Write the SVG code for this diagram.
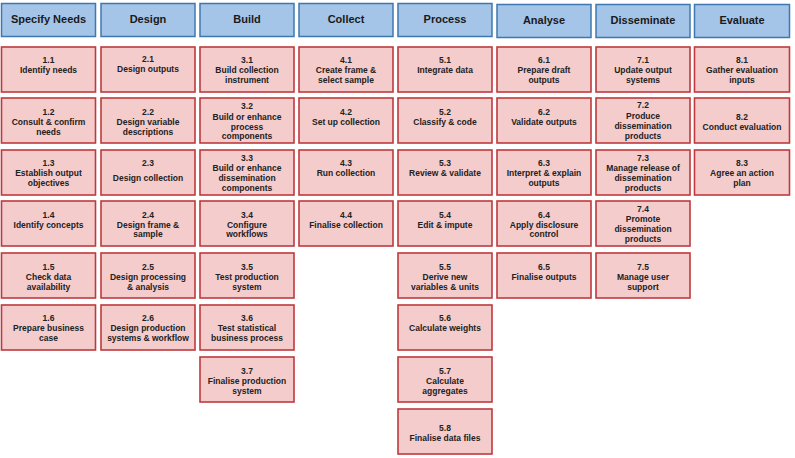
<svg xmlns="http://www.w3.org/2000/svg" width="795" height="458" viewBox="0 0 795 458">
<style>
.h rect{fill:#a4c4e8;stroke:#3f78b0;stroke-width:1.5}
.h text{font-family:"Liberation Sans",Arial,sans-serif;font-weight:bold;font-size:11px;fill:#1a1a1a;text-anchor:middle}
.n rect{fill:#f4cccc;stroke:#bf3a3e;stroke-width:1.6}
.n text{font-family:"Liberation Sans",Arial,sans-serif;font-weight:bold;font-size:8.5px;fill:#222;text-anchor:middle}
</style>
<rect width="795" height="458" fill="#fff"/>
<g id="headers">
<g id="h1" class="h"><rect x="1.5" y="3.5" width="94" height="33"/><text x="48.5" y="22.5">Specify Needs</text></g>
<g id="h2" class="h"><rect x="101" y="3.5" width="94" height="33"/><text x="148" y="22.5">Design</text></g>
<g id="h3" class="h"><rect x="200" y="3.5" width="94" height="33"/><text x="247" y="22.5">Build</text></g>
<g id="h4" class="h"><rect x="299" y="3.5" width="94" height="33"/><text x="346" y="22.5">Collect</text></g>
<g id="h5" class="h"><rect x="398" y="3.5" width="94" height="33"/><text x="445" y="22.5">Process</text></g>
<g id="h6" class="h"><rect x="497" y="4.5" width="94" height="33"/><text x="544" y="24">Analyse</text></g>
<g id="h7" class="h"><rect x="596" y="4.5" width="94" height="33"/><text x="643" y="24">Disseminate</text></g>
<g id="h8" class="h"><rect x="694.5" y="4.5" width="95" height="33"/><text x="742" y="24">Evaluate</text></g>
</g>
<g id="connectors"/>
<g id="nodes">
<!-- column 1 -->
<g id="n1_1" class="n"><rect x="1.5" y="47" width="94" height="45"/><text x="48.5" y="62.5">1.1</text><text x="48.5" y="72.8">Identify needs</text></g>
<g id="n1_2" class="n"><rect x="1.5" y="98" width="94" height="45"/><text x="48.5" y="114.7">1.2</text><text x="48.5" y="124.7">Consult &amp; confirm</text><text x="48.5" y="134.7">needs</text></g>
<g id="n1_3" class="n"><rect x="1.5" y="150" width="94" height="45"/><text x="48.5" y="166">1.3</text><text x="48.5" y="176.3">Establish output</text><text x="48.5" y="186.3">objectives</text></g>
<g id="n1_4" class="n"><rect x="1.5" y="201" width="94" height="45"/><text x="48.5" y="218">1.4</text><text x="48.5" y="227.5">Identify concepts</text></g>
<g id="n1_5" class="n"><rect x="1.5" y="253" width="94" height="45"/><text x="48.5" y="269.7">1.5</text><text x="48.5" y="280.3">Check data</text><text x="48.5" y="290.3">availability</text></g>
<g id="n1_6" class="n"><rect x="1.5" y="305" width="94" height="45"/><text x="48.5" y="321.3">1.6</text><text x="48.5" y="331.3">Prepare business</text><text x="48.5" y="341.3">case</text></g>
<!-- column 2 -->
<g id="n2_1" class="n"><rect x="101" y="47" width="94" height="45"/><text x="148" y="62">2.1</text><text x="148" y="72.3">Design outputs</text></g>
<g id="n2_2" class="n"><rect x="101" y="98" width="94" height="45"/><text x="148" y="114.7">2.2</text><text x="148" y="124.7">Design variable</text><text x="148" y="134.7">descriptions</text></g>
<g id="n2_3" class="n"><rect x="101" y="150" width="94" height="45"/><text x="148" y="166">2.3</text><text x="148" y="181">Design collection</text></g>
<g id="n2_4" class="n"><rect x="101" y="201" width="94" height="45"/><text x="148" y="218">2.4</text><text x="148" y="227.5">Design frame &amp;</text><text x="148" y="237">sample</text></g>
<g id="n2_5" class="n"><rect x="101" y="253" width="94" height="45"/><text x="148" y="269.7">2.5</text><text x="148" y="280.3">Design processing</text><text x="148" y="290.3">&amp; analysis</text></g>
<g id="n2_6" class="n"><rect x="101" y="305" width="94" height="45"/><text x="148" y="321.3">2.6</text><text x="148" y="331.3">Design production</text><text x="148" y="341.3">systems &amp; workflow</text></g>
<!-- column 3 -->
<g id="n3_1" class="n"><rect x="200" y="47" width="94" height="45"/><text x="247" y="62.5">3.1</text><text x="247" y="72.8">Build collection</text><text x="247" y="83">instrument</text></g>
<g id="n3_2" class="n"><rect x="200" y="98" width="94" height="45"/><text x="247" y="109">3.2</text><text x="247" y="119.5">Build or enhance</text><text x="247" y="129.5">process</text><text x="247" y="139.3">components</text></g>
<g id="n3_3" class="n"><rect x="200" y="150" width="94" height="45"/><text x="247" y="161.3">3.3</text><text x="247" y="171.3">Build or enhance</text><text x="247" y="181.3">dissemination</text><text x="247" y="191">components</text></g>
<g id="n3_4" class="n"><rect x="200" y="201" width="94" height="45"/><text x="247" y="218">3.4</text><text x="247" y="227.5">Configure</text><text x="247" y="237">workflows</text></g>
<g id="n3_5" class="n"><rect x="200" y="253" width="94" height="45"/><text x="247" y="269.7">3.5</text><text x="247" y="280.3">Test production</text><text x="247" y="290.3">system</text></g>
<g id="n3_6" class="n"><rect x="200" y="305" width="94" height="45"/><text x="247" y="321.3">3.6</text><text x="247" y="331.3">Test statistical</text><text x="247" y="341.3">business process</text></g>
<g id="n3_7" class="n"><rect x="200" y="357" width="94" height="45"/><text x="247" y="373.7">3.7</text><text x="247" y="384">Finalise production</text><text x="247" y="394">system</text></g>
<!-- column 4 -->
<g id="n4_1" class="n"><rect x="299" y="47" width="94" height="45"/><text x="346" y="62.5">4.1</text><text x="346" y="72.8">Create frame &amp;</text><text x="346" y="83">select sample</text></g>
<g id="n4_2" class="n"><rect x="299" y="98" width="94" height="45"/><text x="346" y="114.7">4.2</text><text x="346" y="124.7">Set up collection</text></g>
<g id="n4_3" class="n"><rect x="299" y="150" width="94" height="45"/><text x="346" y="166.3">4.3</text><text x="346" y="176.3">Run collection</text></g>
<g id="n4_4" class="n"><rect x="299" y="201" width="94" height="45"/><text x="346" y="218">4.4</text><text x="346" y="227.5">Finalise collection</text></g>
<!-- column 5 -->
<g id="n5_1" class="n"><rect x="398" y="47" width="94" height="45"/><text x="445" y="62.5">5.1</text><text x="445" y="72.8">Integrate data</text></g>
<g id="n5_2" class="n"><rect x="398" y="98" width="94" height="45"/><text x="445" y="114.7">5.2</text><text x="445" y="124.7">Classify &amp; code</text></g>
<g id="n5_3" class="n"><rect x="398" y="150" width="94" height="45"/><text x="445" y="166.3">5.3</text><text x="445" y="176.3">Review &amp; validate</text></g>
<g id="n5_4" class="n"><rect x="398" y="201" width="94" height="45"/><text x="445" y="218">5.4</text><text x="445" y="228">Edit &amp; impute</text></g>
<g id="n5_5" class="n"><rect x="398" y="253" width="94" height="45"/><text x="445" y="269.7">5.5</text><text x="445" y="280.3">Derive new</text><text x="445" y="290.3">variables &amp; units</text></g>
<g id="n5_6" class="n"><rect x="398" y="305" width="94" height="45"/><text x="445" y="321.3">5.6</text><text x="445" y="331.3">Calculate weights</text></g>
<g id="n5_7" class="n"><rect x="398" y="357" width="94" height="45"/><text x="445" y="373.7">5.7</text><text x="445" y="384">Calculate</text><text x="445" y="394">aggregates</text></g>
<g id="n5_8" class="n"><rect x="398" y="409" width="94" height="45"/><text x="445" y="430.7">5.8</text><text x="445" y="441.3">Finalise data files</text></g>
<!-- column 6 -->
<g id="n6_1" class="n"><rect x="497" y="47" width="94" height="45"/><text x="544" y="62.5">6.1</text><text x="544" y="72.8">Prepare draft</text><text x="544" y="83">outputs</text></g>
<g id="n6_2" class="n"><rect x="497" y="98" width="94" height="45"/><text x="544" y="114.7">6.2</text><text x="544" y="124.7">Validate outputs</text></g>
<g id="n6_3" class="n"><rect x="497" y="150" width="94" height="45"/><text x="544" y="166.3">6.3</text><text x="544" y="176.3">Interpret &amp; explain</text><text x="544" y="186.3">outputs</text></g>
<g id="n6_4" class="n"><rect x="497" y="201" width="94" height="45"/><text x="544" y="218">6.4</text><text x="544" y="227.5">Apply disclosure</text><text x="544" y="237">control</text></g>
<g id="n6_5" class="n"><rect x="497" y="253" width="94" height="45"/><text x="544" y="269.7">6.5</text><text x="544" y="280.3">Finalise outputs</text></g>
<!-- column 7 -->
<g id="n7_1" class="n"><rect x="596" y="47" width="94" height="45"/><text x="643" y="62.5">7.1</text><text x="643" y="72.8">Update output</text><text x="643" y="83">systems</text></g>
<g id="n7_2" class="n"><rect x="596" y="98" width="94" height="45"/><text x="643" y="108">7.2</text><text x="643" y="119">Produce</text><text x="643" y="129">dissemination</text><text x="643" y="139">products</text></g>
<g id="n7_3" class="n"><rect x="596" y="150" width="94" height="45"/><text x="643" y="161.3">7.3</text><text x="643" y="171.3">Manage release of</text><text x="643" y="181.3">dissemination</text><text x="643" y="191">products</text></g>
<g id="n7_4" class="n"><rect x="596" y="201" width="94" height="45"/><text x="643" y="212.3">7.4</text><text x="643" y="222.3">Promote</text><text x="643" y="232.3">dissemination</text><text x="643" y="242">products</text></g>
<g id="n7_5" class="n"><rect x="596" y="253" width="94" height="45"/><text x="643" y="269.7">7.5</text><text x="643" y="280.3">Manage user</text><text x="643" y="290.3">support</text></g>
<!-- column 8 -->
<g id="n8_1" class="n"><rect x="694.5" y="47" width="95" height="45"/><text x="742" y="62.5">8.1</text><text x="742" y="72.8">Gather evaluation</text><text x="742" y="83">inputs</text></g>
<g id="n8_2" class="n"><rect x="694.5" y="98" width="95" height="45"/><text x="742" y="119.7">8.2</text><text x="742" y="129.7">Conduct evaluation</text></g>
<g id="n8_3" class="n"><rect x="694.5" y="150" width="95" height="45"/><text x="742" y="166.3">8.3</text><text x="742" y="176.3">Agree an action</text><text x="742" y="186.3">plan</text></g>
</g>
</svg>
